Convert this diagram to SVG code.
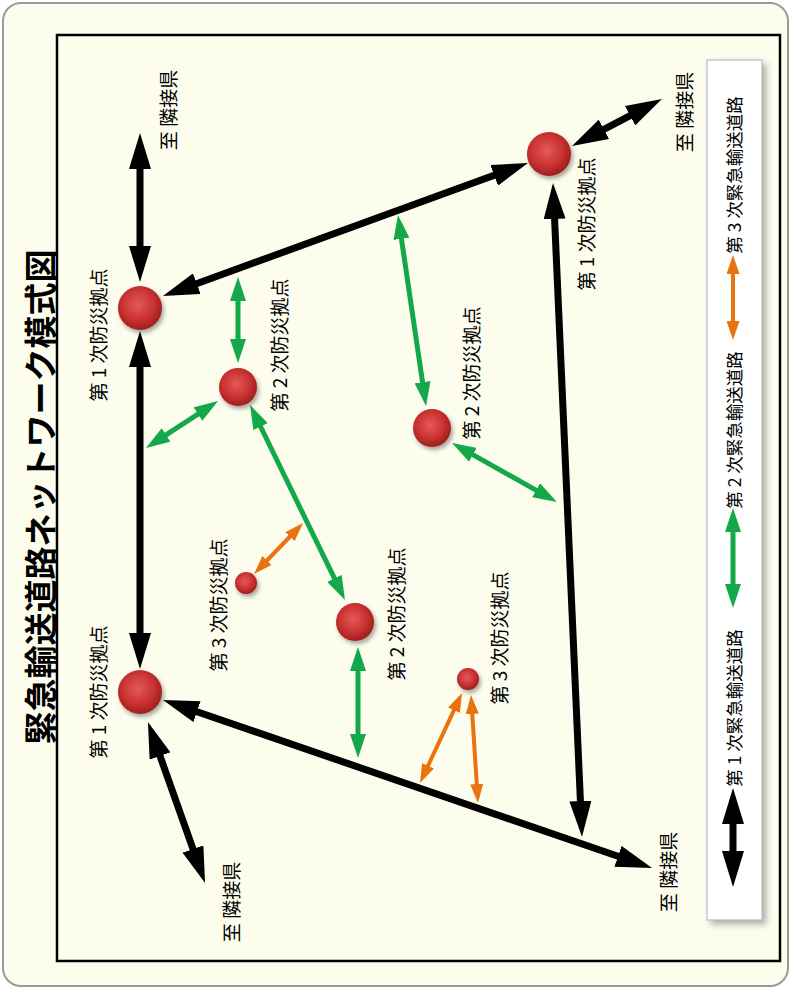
<svg xmlns="http://www.w3.org/2000/svg" width="794" height="990" viewBox="0 0 794 990">
<defs>
<style>
.lbl{font-family:"Noto Sans CJK JP","Noto Sans",sans-serif;font-size:19px;fill:#000;text-anchor:middle;dominant-baseline:central}
.leg{font-family:"Noto Sans CJK JP","Noto Sans",sans-serif;font-size:17.5px;fill:#000;text-anchor:middle;dominant-baseline:central}
.title{font-family:"Noto Sans CJK JP","Noto Sans",sans-serif;font-size:33px;font-weight:bold;fill:#000;text-anchor:middle;dominant-baseline:central}
.b{stroke:#000;stroke-width:7;fill:none;marker-start:url(#hb);marker-end:url(#hb)}
.g{stroke:#13a84a;stroke-width:5;fill:none;marker-start:url(#hg);marker-end:url(#hg)}
.o{stroke:#e8730f;stroke-width:4;fill:none;marker-start:url(#ho);marker-end:url(#ho)}
.node{fill:url(#sph);filter:url(#sh)}
</style>
<radialGradient id="sph" cx="0.45" cy="0.42" r="0.6">
<stop offset="0" stop-color="#e45a5a"/>
<stop offset="0.6" stop-color="#c93232"/>
<stop offset="1" stop-color="#9c1c1c"/>
</radialGradient>
<filter id="sh" x="-50%" y="-50%" width="200%" height="200%">
<feDropShadow dx="2" dy="3" stdDeviation="2" flood-color="#000" flood-opacity="0.35"/>
</filter>
<filter id="bsh" x="-20%" y="-5%" width="150%" height="110%">
<feDropShadow dx="4" dy="4" stdDeviation="3" flood-color="#555" flood-opacity="0.45"/>
</filter>
<marker id="hb" markerUnits="userSpaceOnUse" viewBox="0 0 36 22" markerWidth="36" markerHeight="22" refX="20" refY="11" orient="auto-start-reverse">
<path d="M0,0 L36,11 L0,22 z" fill="#000"/>
</marker>
<marker id="hg" markerUnits="userSpaceOnUse" viewBox="0 0 24 16" markerWidth="24" markerHeight="16" refX="12" refY="8" orient="auto-start-reverse">
<path d="M0,0 L24,8 L0,16 z" fill="#13a84a"/>
</marker>
<marker id="ho" markerUnits="userSpaceOnUse" viewBox="0 0 19 13" markerWidth="19" markerHeight="13" refX="10" refY="6.5" orient="auto-start-reverse">
<path d="M0,0 L19,6.5 L0,13 z" fill="#e8730f"/>
</marker>
</defs>

<rect x="3" y="3" width="785" height="983" rx="18" fill="#fdfdee" stroke="#9a9a9a" stroke-width="2"/>
<rect x="57" y="35" width="723" height="926" fill="#fdfdee" stroke="#000" stroke-width="2.5"/>

<text class="title" transform="translate(39,497) rotate(-90)">緊急輸送道路ネットワーク模式図</text>

<g id="connectors">
<line class="b" x1="140" y1="149" x2="140" y2="266"/>
<line class="b" x1="140" y1="347" x2="140" y2="653"/>
<line class="b" x1="178" y1="290.5" x2="513" y2="168.5"/>
<line class="b" x1="586.2" y1="138.6" x2="647.8" y2="106.4"/>
<line class="b" x1="553.7" y1="199" x2="581.3" y2="821"/>
<line class="b" x1="178.1" y1="705.2" x2="636.9" y2="862.8"/>
<line class="b" x1="153.3" y1="737.1" x2="199.7" y2="867.9"/>
<line class="g" x1="238" y1="289" x2="238" y2="351"/>
<line class="g" x1="156" y1="441.4" x2="208" y2="407.6"/>
<line class="g" x1="255.3" y1="415.8" x2="339.7" y2="589.2"/>
<line class="g" x1="399.7" y1="226.9" x2="424.3" y2="394.1"/>
<line class="g" x1="462.5" y1="448.9" x2="546.5" y2="496.1"/>
<line class="g" x1="358" y1="659" x2="358" y2="746"/>
<line class="o" x1="260.2" y1="567.5" x2="296.8" y2="529.5"/>
<line class="o" x1="458.2" y1="701.2" x2="423.8" y2="774.8"/>
<line class="o" x1="471.6" y1="704" x2="477.4" y2="794"/>
</g>

<g id="node-1a"><circle class="node" cx="140" cy="308" r="22"/><text class="lbl" transform="translate(97,335) rotate(-90)">第 1 次防災拠点</text></g>
<g id="node-1b"><circle class="node" cx="140" cy="692" r="22"/><text class="lbl" transform="translate(97,692) rotate(-90)">第 1 次防災拠点</text></g>
<g id="node-1c"><circle class="node" cx="549" cy="154" r="22"/><text class="lbl" transform="translate(585,224) rotate(-90)">第 1 次防災拠点</text></g>
<g id="node-2a"><circle class="node" cx="238" cy="387" r="19"/><text class="lbl" transform="translate(278,345) rotate(-90)">第 2 次防災拠点</text></g>
<g id="node-2b"><circle class="node" cx="432" cy="428" r="19"/><text class="lbl" transform="translate(470,373) rotate(-90)">第 2 次防災拠点</text></g>
<g id="node-2c"><circle class="node" cx="355" cy="622" r="19"/><text class="lbl" transform="translate(395,614) rotate(-90)">第 2 次防災拠点</text></g>
<g id="node-3a"><circle class="node" cx="246" cy="583" r="11"/><text class="lbl" transform="translate(217,605) rotate(-90)">第 3 次防災拠点</text></g>
<g id="node-3b"><circle class="node" cx="468" cy="679" r="11"/><text class="lbl" transform="translate(498,638) rotate(-90)">第 3 次防災拠点</text></g>

<g id="dest-tl"><text class="lbl" transform="translate(167,110) rotate(-90)">至 隣接県</text></g>
<g id="dest-tr"><text class="lbl" transform="translate(683,112) rotate(-90)">至 隣接県</text></g>
<g id="dest-bl"><text class="lbl" transform="translate(230,902) rotate(-90)">至 隣接県</text></g>
<g id="dest-br"><text class="lbl" transform="translate(667,872) rotate(-90)">至 隣接県</text></g>

<g id="legend">
<rect x="707" y="60" width="55" height="860" fill="#fff" stroke="#a8b0b8" stroke-width="1" filter="url(#bsh)"/>
<line class="o" x1="733" y1="264" x2="733" y2="331"/>
<text class="leg" transform="translate(733,175) rotate(-90)">第 3 次緊急輸送道路</text>
<line class="g" x1="733" y1="520" x2="733" y2="596"/>
<text class="leg" transform="translate(733,430) rotate(-90)">第 2 次緊急輸送道路</text>
<line class="b" x1="733" y1="804" x2="733" y2="871"/>
<text class="leg" transform="translate(733,708) rotate(-90)">第 1 次緊急輸送道路</text>
</g>
</svg>
